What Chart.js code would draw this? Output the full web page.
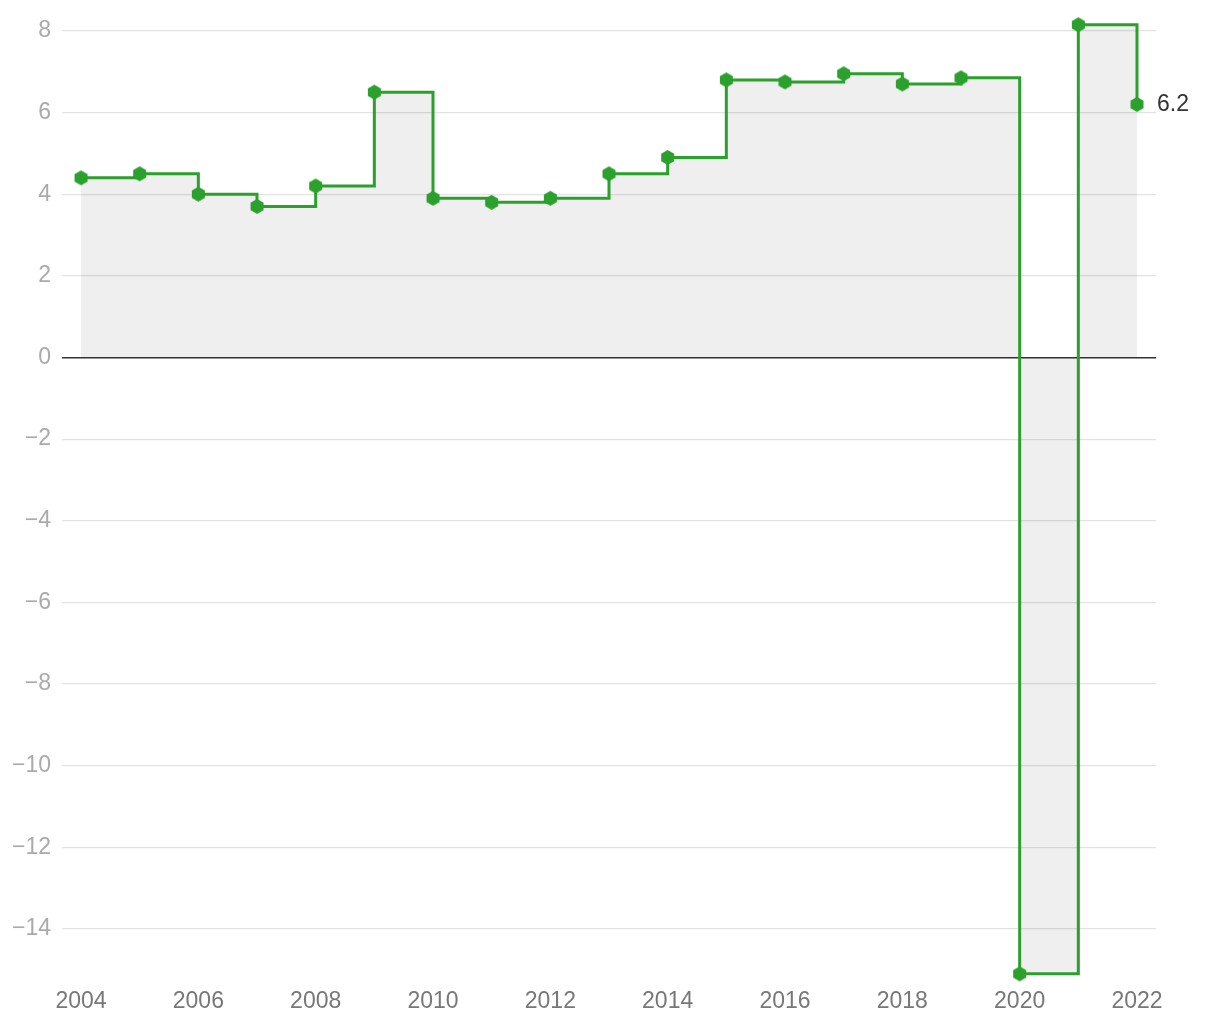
<!DOCTYPE html>
<html>
<head>
<meta charset="utf-8">
<script src="https://cdn.jsdelivr.net/npm/chart.js@4.4.1/dist/chart.umd.min.js"></script>
<style>
  html,body{margin:0;padding:0;background:#fff;}
  #wrap{width:1220px;height:1020px;position:relative;}
</style>
</head>
<body>
<div id="wrap"><canvas id="c"></canvas></div>
<script>
const years=[2004,2005,2006,2007,2008,2009,2010,2011,2012,2013,2014,2015,2016,2017,2018,2019,2020,2021,2022];
const values=[4.4,4.5,4.0,3.7,4.2,6.5,3.9,3.8,3.9,4.5,4.9,6.8,6.75,6.95,6.7,6.85,-15.1,8.15,6.2];
const xTicks=[2004,2006,2008,2010,2012,2014,2016,2018,2020,2022];
const yTicks=[-14,-12,-10,-8,-6,-4,-2,0,2,4,6,8];

const GREEN='#2ca02c';
const FONT='"Helvetica Neue", Helvetica, Arial, "Liberation Sans", sans-serif';

// hexagon marker, vertex pointing up
function hexagon(r){
  const c=document.createElement('canvas'); const s=Math.ceil(r*2)+2; c.width=s; c.height=s;
  const g=c.getContext('2d'); g.fillStyle=GREEN; g.beginPath();
  for(let i=0;i<6;i++){ const a=-Math.PI/2+i*Math.PI/3; const px=s/2+r*Math.cos(a), py=s/2+r*Math.sin(a); i?g.lineTo(px,py):g.moveTo(px,py); }
  g.closePath(); g.fill(); return c;
}
const hex=hexagon(7.5);

const endLabel={id:'endLabel',afterDatasetsDraw(chart){
  const meta=chart.getDatasetMeta(0); const p=meta.data[meta.data.length-1]; const ctx=chart.ctx;
  ctx.save(); ctx.font='23px '+FONT; ctx.fillStyle='#333'; ctx.textAlign='left'; ctx.textBaseline='middle';
  ctx.fillText(String(values[values.length-1]), p.x+20, p.y); ctx.restore();
}};

const fmt=v=>v<0?'\u2212'+Math.abs(v):String(v);

new Chart(document.getElementById('c'),{
  type:'line',
  data:{datasets:[{
    data:years.map((y,i)=>({x:y,y:values[i]})),
    borderColor:GREEN, borderWidth:3, stepped:true, clip:false,
    fill:'origin', backgroundColor:'rgba(0,0,0,0.063)',
    pointStyle:hex, pointRadius:7.5, pointHoverRadius:7.5
  }]},
  options:{
    responsive:true, maintainAspectRatio:false, animation:false,
    layout:{padding:{top:8.5,right:64,left:0,bottom:0}},
    plugins:{legend:{display:false},tooltip:{enabled:false}},
    scales:{
      x:{type:'linear',min:2003.676,max:2022.324,
        afterBuildTicks:a=>{a.ticks=xTicks.map(v=>({value:v}));},
        afterFit:a=>{a.height=38;a.paddingLeft=0;a.paddingRight=0;},
        grid:{display:false},border:{display:false},
        ticks:{padding:-2,color:'#777',font:{size:23,family:FONT},callback:v=>String(v),maxRotation:0,autoSkip:false}},
      y:{min:-15.3,max:8.5,
        afterBuildTicks:a=>{a.ticks=yTicks.map(v=>({value:v}));},
        afterFit:a=>{a.width=62;a.paddingTop=0;a.paddingBottom=0;},
        border:{display:false},
        grid:{drawTicks:false,color:c=>c.tick&&c.tick.value===0?'#333':'#e2e2e2',lineWidth:c=>c.tick&&c.tick.value===0?1.5:1.2},
        ticks:{padding:11,color:'#aaa',font:{size:23,family:FONT},callback:fmt}}
    }
  },
  plugins:[endLabel]
});
</script>
</body>
</html>
